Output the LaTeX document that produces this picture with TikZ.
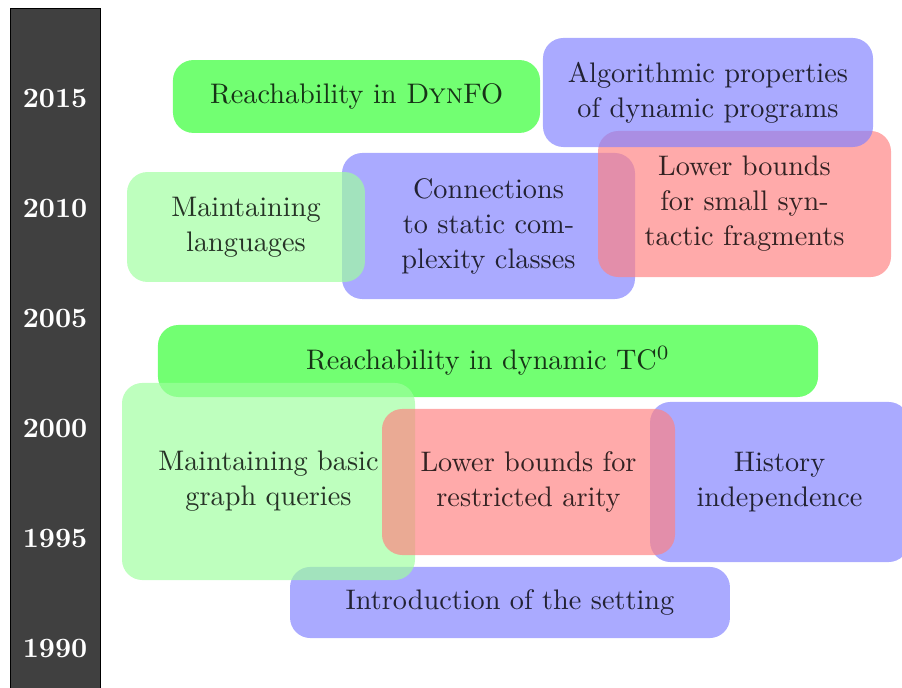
\documentclass[tikz,border=0pt]{standalone}
\usetikzlibrary{positioning}
\definecolor{bluefill}{RGB}{128,128,255}
\definecolor{redfill}{RGB}{255,128,128}
\definecolor{greenfill}{RGB}{44,255,44}
\definecolor{lightgreenfill}{RGB}{158,255,158}
\definecolor{barfill}{RGB}{64,64,64}
\tikzset{
  topic/.style={rounded corners=7pt, inner sep=0pt, align=center, fill opacity=0.67, text opacity=0.8, font=\fontsize{9.7pt}{12pt}\selectfont},
  bluebox/.style={topic, fill=bluefill},
  redbox/.style={topic, fill=redfill},
  greenbox/.style={topic, fill=greenfill},
  lightbox/.style={topic, fill=lightgreenfill},
  yearlabel/.style={text=white, font=\fontsize{9.6pt}{12pt}\selectfont\bfseries, inner sep=0pt},
  timebar/.style={fill=barfill, draw=black, line width=0.3pt}
}
\begin{document}
\begin{tikzpicture}[x=0.343pt,y=-0.343pt]
\useasboundingbox (0,0) rectangle (902,688);
% time bar
\path[timebar] (10,8) rectangle (100,700);
\node[yearlabel] (y2015) at (55,98) {2015};
\node[yearlabel] (y2010) at (55,208) {2010};
\node[yearlabel] (y2005) at (55,318) {2005};
\node[yearlabel] (y2000) at (55,428) {2000};
\node[yearlabel] (y1995) at (55,538) {1995};
\node[yearlabel] (y1990) at (55,648) {1990};
% lower part
\node[bluebox, minimum width=150.9pt, minimum height=24.4pt] (intro) at (510,602.5) {Introduction of the setting};
\node[greenbox, minimum width=226.4pt, minimum height=24.7pt] (tc) at (488,361) {Reachability in dynamic TC$^0$};
\node[bluebox, minimum width=88.8pt, minimum height=54.9pt] (hist) at (779.5,482) {History\\independence};
\node[lightbox, minimum width=100.5pt, minimum height=67.6pt] (basic) at (268.5,481.5) {Maintaining basic\\graph queries};
\node[redbox, minimum width=100.5pt, minimum height=50.1pt] (arity) at (528.5,482) {Lower bounds for\\restricted arity};
% upper part
\node[bluebox, minimum width=100.5pt, minimum height=50.1pt] (conn) at (488.5,226) {Connections\\to static com-\\plexity classes};
\node[lightbox, minimum width=81.6pt, minimum height=37.7pt] (lang) at (246,227) {Maintaining\\languages};
\node[redbox, minimum width=100.5pt, minimum height=50.1pt] (small) at (744.5,204) {Lower bounds\\for small syn-\\tactic fragments};
\node[bluebox, minimum width=113.2pt, minimum height=37.4pt] (algo) at (708,92.5) {Algorithmic properties\\of dynamic programs};
\node[greenbox, minimum width=125.9pt, minimum height=25.0pt] (dynfo) at (356.5,96.5) {Reachability in \textsc{Dyn}FO};
\end{tikzpicture}
\end{document}
